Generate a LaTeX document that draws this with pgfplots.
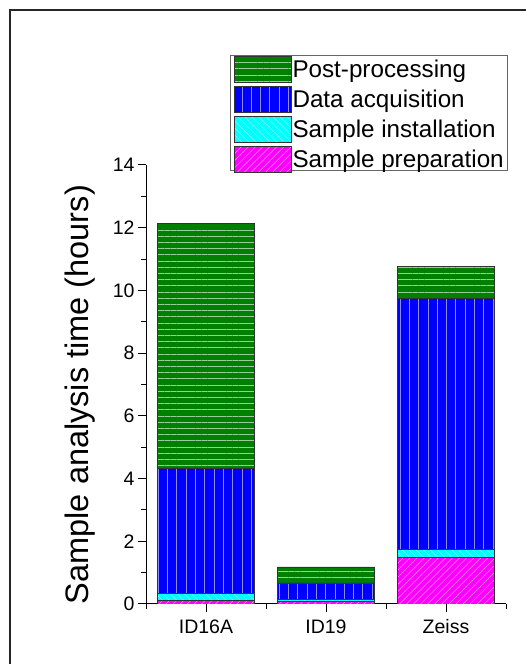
\documentclass[border=0pt]{standalone}
\usepackage{pgfplots}
\pgfplotsset{compat=1.18}
\usetikzlibrary{patterns.meta}
\usepackage{fontspec}
\setmainfont{Liberation Sans}
\definecolor{cgreen}{RGB}{0,128,0}
\definecolor{cblue}{RGB}{0,0,255}
\definecolor{ccyan}{RGB}{0,255,255}
\definecolor{cmag}{RGB}{255,0,255}
\newcommand{\lstrut}{\rule[-5pt]{0pt}{26pt}}
\pgfplotsset{
  mylegend/.style={legend image code/.code={\path[use as bounding box] (3pt,2pt) rectangle (60pt,3pt);\draw[##1] (3pt,-14.5pt) rectangle (60pt,11.5pt);}},
}
\begin{document}
\begin{tikzpicture}
\draw[line width=2pt, black!85] (10pt,0pt) -- (10pt,654pt) -- (526pt,654pt);
\begin{axis}[
  at={(146pt,60pt)}, anchor=south west,
  scale only axis, width=360pt, height=439pt,
  ybar stacked, bar width=0.81,
  xmin=0.5, xmax=3.5, ymin=0, ymax=14,
  xtick={1,2,3}, xticklabels={ID16A,ID19,Zeiss},
  minor xtick={0.5,1.5,2.5,3.5},
  ytick={0,2,...,14}, minor ytick={1,3,...,13},
  axis lines*=left,
  axis line style={line width=1pt, black},
  tick align=outside,
  major tick length=8pt, minor tick length=4.5pt,
  tick style={line width=1pt, black},
  /pgf/number format/assume math mode=true,
  tick label style={font=\fontsize{19.5}{22}\selectfont},
  xticklabel style={yshift=-4pt},
  ylabel={Sample analysis time (hours)},
  ylabel style={font=\fontsize{32.5}{36}\selectfont, at={(axis description cs:-0.183,0.477)}, anchor=center},
  reverse legend,
  legend style={at={(1.006,1.2515)}, anchor=north east, draw=black!60, line width=0.8pt,
    font=\fontsize{24.2}{26}\selectfont, cells={anchor=west}, inner xsep=3pt, inner ysep=1pt,
    nodes={inner sep=1pt}, row sep=5.3pt},
]
\addplot[fill=cmag, draw=black!80, line width=0.9pt,
  postaction={pattern={Lines[angle=45,distance=5pt,line width=0.5pt]}, pattern color=white!60!cmag}, mylegend]
  coordinates {(1,0.10) (2,0.09) (3,1.49)};
\addlegendentry{\lstrut Sample preparation}
\addplot[fill=ccyan, draw=black!80, line width=0.9pt,
  postaction={pattern={Lines[angle=-45,distance=5pt,line width=0.5pt]}, pattern color=white!50!ccyan}, mylegend]
  coordinates {(1,0.24) (2,0.04) (3,0.24)};
\addlegendentry{\lstrut Sample installation}
\addplot[fill=cblue, draw=black!80, line width=0.9pt,
  postaction={pattern={Lines[angle=90,distance=9.3pt,line width=0.6pt]}, pattern color=white!55!cblue}, mylegend]
  coordinates {(1,3.99) (2,0.54) (3,8.02)};
\addlegendentry{\lstrut Data acquisition}
\addplot[fill=cgreen, draw=black!80, line width=0.9pt,
  postaction={pattern={Lines[angle=0,distance=6.2pt,line width=0.6pt]}, pattern color=white!60!cgreen}, mylegend]
  coordinates {(1,7.80) (2,0.51) (3,1.00)};
\addlegendentry{\lstrut Post-processing}
\end{axis}
\pgfresetboundingbox
\path[use as bounding box] (0pt,0pt) rectangle (526pt,664pt);
\end{tikzpicture}
\end{document}
